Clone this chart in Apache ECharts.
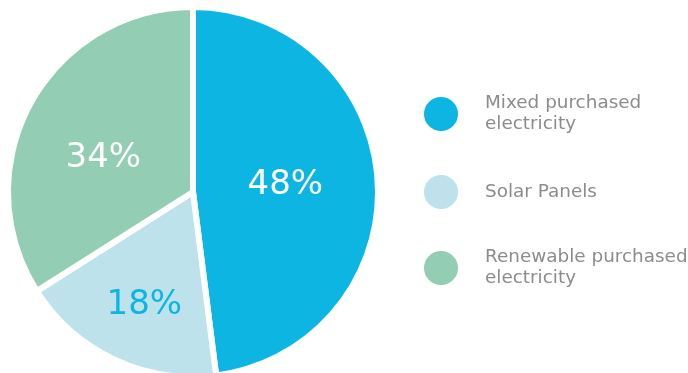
<!DOCTYPE html>
<html>
<head>
<meta charset="utf-8">
<script src="https://cdn.jsdelivr.net/npm/echarts@6/dist/echarts.min.js"></script>
<style>
  html, body { margin: 0; padding: 0; background: #ffffff; }
  #chart { width: 688px; height: 373px; }
</style>
</head>
<body>
<div id="chart"></div>
<script>
// Energy sources, share of total (%)
const categories = ['Mixed purchased\nelectricity', 'Solar Panels', 'Renewable purchased\nelectricity'];
const shares = [48, 18, 34];
const sliceColors = ['#0db6e2', '#bde2ec', '#93cdb4'];
const labelColors = ['#ffffff', '#0db6e2', '#ffffff'];
const labelOffsets = [[-3, -1], [-8, 27], [-6, 12]];

const FONT = '"DejaVu Sans", "Noto Sans", sans-serif';

const pieData = categories.map((name, i) => ({
  name: name,
  value: shares[i],
  itemStyle: { color: sliceColors[i] },
  label: { color: labelColors[i], offset: labelOffsets[i] }
}));

// One legend block per entry so each sits at its own height;
// the text is nudged down a little relative to its dot
const legendTops = [88, 168, 242];
const legendNudge = [4, 1, 4];
const legends = categories.map((name, i) => ({
  orient: 'vertical',
  left: 417,
  top: legendTops[i],
  icon: 'circle',
  itemWidth: 36,
  itemHeight: 36,
  itemGap: 0,
  selectedMode: false,
  data: [name],
  textStyle: {
    fontFamily: FONT,
    fontSize: 18.4,
    color: '#8c8c8c',
    lineHeight: 21,
    padding: [legendNudge[i], 0, -legendNudge[i], 21]
  }
}));

const chart = echarts.init(document.getElementById('chart'), null, { renderer: 'canvas' });
chart.setOption({
  animation: false,
  legend: legends,
  series: [{
    type: 'pie',
    center: [193, 192],
    radius: 185,
    startAngle: 90,
    clockwise: true,
    avoidLabelOverlap: false,
    itemStyle: { borderColor: '#ffffff', borderWidth: 6 },
    label: {
      show: true,
      position: 'inside',
      formatter: '{c}%',
      fontFamily: FONT,
      fontSize: 34,
      fontWeight: 'normal'
    },
    labelLine: { show: false },
    emphasis: { disabled: true },
    data: pieData
  }]
});
</script>
</body>
</html>
